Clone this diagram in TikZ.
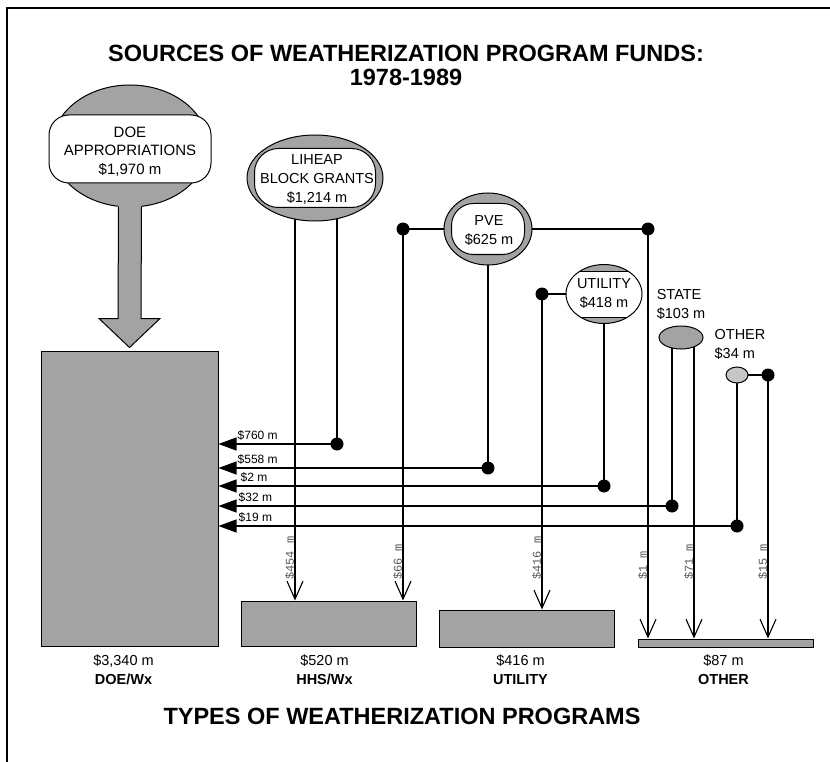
\documentclass[tikz,border=0pt]{standalone}
\usepackage{fontspec}
\setmainfont{Liberation Sans}
\setmonofont{Liberation Mono}
\usepackage{tikz}
\usetikzlibrary{shapes.geometric, arrows.meta, positioning, backgrounds}
\definecolor{fundgray}{gray}{0.64}
\tikzstyle{prog} = [rectangle, draw, fill=fundgray, line width=1pt, inner sep=0pt,
    minimum width=175pt]
\tikzstyle{source} = [ellipse, draw, fill=fundgray, line width=1pt, inner sep=0pt]
\tikzstyle{srctext} = [align=center, inner sep=0pt, font=\fontsize{14.5}{19}\selectfont]
\tikzstyle{plabel} = [align=center, inner sep=0pt, font=\fontsize{14.5}{19}\selectfont]
\tikzstyle{title} = [align=center, inner sep=0pt, font=\fontsize{23.5}{24}\selectfont\bfseries]
\tikzstyle{dot} = [circle, fill=black, inner sep=0pt, minimum size=13pt]
\tikzstyle{todoe} = [draw, line width=1.1pt, -{Triangle[length=18pt,width=13pt]}]
\tikzstyle{toprog} = [draw, line width=1.1pt, -{Straight Barb[length=18pt,width=16pt]}]
\tikzstyle{amount} = [anchor=south west, inner sep=0pt, font=\fontsize{12}{14}\selectfont]
\tikzstyle{vamount} = [anchor=south west, rotate=90, inner sep=0pt, text=black!65,
    font=\ttfamily\fontsize{12}{13}\selectfont]
\tikzset{inset/.style n args={3}{path picture={
    \draw[fill=white, line width=1pt, rounded corners=#3]
      ([xshift=-#1/2, yshift=#2/2]path picture bounding box.center) rectangle
      ([xshift=#1/2, yshift=-#2/2]path picture bounding box.center);}}}

\begin{document}
\begin{tikzpicture}[x=1pt, y=-1pt]
      \useasboundingbox (0,0) rectangle (830,762);
      \draw[line width=1.2pt] (830,8) -- (7,8) -- (7,762);
      % Titles
      \node[title] (top-title) at (406,65) {SOURCES OF WEATHERIZATION PROGRAM FUNDS:\\1978-1989};
      \node[title] (bottom-title) at (402,716) {TYPES OF WEATHERIZATION PROGRAMS};
      % Programs
      \node[prog, minimum width=177pt, minimum height=295pt] (doe) at (129.5,498.5) {};
      \node[prog, minimum height=45pt] (hhs) at (328.5,623.5) {};
      \node[prog, minimum height=37pt] (util) at (526.5,628.5) {};
      \node[prog, minimum height=8pt] (oth) at (725.5,643) {};
      \node[plabel, below=8pt of doe, xshift=-6pt] (doe-lab) {\$3,340 m\\\textbf{DOE/Wx}};
      \node[plabel, below=8pt of hhs, xshift=-4pt] (hhs-lab) {\$520 m\\\textbf{HHS/Wx}};
      \node[plabel, below=7pt of util, xshift=-6pt] (util-lab) {\$416 m\\\textbf{UTILITY}};
      \node[plabel, below=7pt of oth, xshift=-2pt] (oth-lab) {\$87 m\\\textbf{OTHER}};
      % Sources
      \node[source, minimum width=156pt, minimum height=122pt] (doe-src) at (130,146) {};
      \node[rectangle, draw, fill=white, line width=1pt, rounded corners=20pt,
        minimum width=162pt, minimum height=68pt] (doe-box) at (130,149) {};
      \node[srctext, font=\fontsize{15}{18.5}\selectfont] (doe-txt) at (130,151.5) {DOE\\APPROPRIATIONS\\\$1,970 m};
      \node[source, minimum width=136pt, minimum height=86pt, inset={121pt}{59pt}{24pt}] (lih) at (315,178) {};
      \node[srctext] (lih-txt) at (317,179.5) {LIHEAP\\BLOCK GRANTS\\\$1,214 m};
      \node[source, minimum width=88pt, minimum height=72pt, inset={73pt}{51pt}{22pt}] (pve) at (488,229) {};
      \node[srctext] (pve-txt) at (489,230.5) {PVE\\\$625 m};
      \node[source, minimum width=76pt, minimum height=59pt, inset={90pt}{46pt}{0pt}] (usrc) at (604,294) {};
      \node[srctext] (usrc-txt) at (604,294) {UTILITY\\\$418 m};
      \node[source, minimum width=44pt, minimum height=23pt] (state) at (681,337.5) {};
      \node[srctext, align=left, above=6pt of state] (state-txt) {STATE\\\$103 m};
      \node[source, fill=gray!45, minimum width=22pt, minimum height=16pt] (osrc) at (737,375) {};
      \node[srctext, align=left, above=7pt of osrc, xshift=3pt] (osrc-txt) {OTHER\\\$34 m};
      % Big arrow
      \fill[fundgray] ([xshift=-11.5pt,yshift=4pt]doe-src.south) -- ([xshift=-11.5pt,yshift=32pt]doe.north)
        -- ([xshift=-30.5pt,yshift=32pt]doe.north) -- ([yshift=3pt]doe.north)
        -- ([xshift=30.5pt,yshift=32pt]doe.north) -- ([xshift=11.5pt,yshift=32pt]doe.north)
        -- ([xshift=11.5pt,yshift=4pt]doe-src.south) -- cycle;
      \draw[line width=1pt] ([xshift=-11.5pt,yshift=0.5pt]doe-src.south) -- ([xshift=-11.5pt,yshift=32pt]doe.north)
        -- ([xshift=-30.5pt,yshift=32pt]doe.north) -- ([yshift=3pt]doe.north)
        -- ([xshift=30.5pt,yshift=32pt]doe.north) -- ([xshift=11.5pt,yshift=32pt]doe.north)
        -- ([xshift=11.5pt,yshift=0.5pt]doe-src.south);
      % Junctions
      \node[dot] (d760) at (337,444) {};
      \node[dot] (d558) at (488,468) {};
      \node[dot] (d2) at (604,486) {};
      \node[dot] (d32) at (672,506) {};
      \node[dot] (d19) at (737,526) {};
      \node[dot] (pve-l) at (403,229) {};
      \node[dot] (pve-r) at (648,229) {};
      \node[dot] (util-l) at (542,294) {};
      \node[dot] (oth-r) at (768,375) {};
      \coordinate (lih-l) at ([xshift=-20pt]lih.center);
      \coordinate (state-r) at ([xshift=13pt]state.center);
      \coordinate (vlab) at (0,578);
      % Draw edges
      \begin{scope}[on background layer]
        \path [toprog] (lih-l) -- (lih-l |- hhs.north);
        \path [todoe] (lih.center -| d760) -- (d760.center) -- (d760 -| doe.east);
        \path [todoe] (pve.center) -- (d558.center) -- (d558 -| doe.east);
        \path [toprog] (pve.center) -- (pve-l.center) -- (pve-l |- hhs.north);
        \path [toprog] (pve.center) -- (pve-r.center) -- (pve-r |- oth.north);
        \path [toprog] (usrc.center) -- (util-l.center) -- (util-l |- util.north);
        \path [todoe] (usrc.center) -- (d2.center) -- (d2 -| doe.east);
        \path [todoe] (state.center -| d32) -- (d32.center) -- (d32 -| doe.east);
        \path [toprog] (state-r) -- (state-r |- oth.north);
        \path [todoe] (osrc.center) -- (d19.center) -- (d19 -| doe.east);
        \path [toprog] (osrc.center) -- (oth-r.center) -- (oth-r |- oth.north);
      \end{scope}
      % Amounts
      \node[amount, xshift=19pt, yshift=3.5pt] (a760) at (d760 -| doe.east) {\$760 m};
      \node[amount, xshift=19pt, yshift=3.5pt] (a558) at (d558 -| doe.east) {\$558 m};
      \node[amount, xshift=22pt, yshift=3.5pt] (a2) at (d2 -| doe.east) {\$2 m};
      \node[amount, xshift=20pt, yshift=3.5pt] (a32) at (d32 -| doe.east) {\$32 m};
      \node[amount, xshift=20pt, yshift=3.5pt] (a19) at (d19 -| doe.east) {\$19 m};
      \node[vamount, xshift=-2pt] (a454) at (lih-l |- vlab) {\$454 m};
      \node[vamount, xshift=-2pt] (a66) at (pve-l |- vlab) {\$66 m};
      \node[vamount, xshift=-2pt] (a416) at (util-l |- vlab) {\$416 m};
      \node[vamount, xshift=-2pt] (a1) at (pve-r |- vlab) {\$1 m};
      \node[vamount, xshift=-2pt] (a71) at (state-r |- vlab) {\$71 m};
      \node[vamount, xshift=-2pt] (a15) at (oth-r |- vlab) {\$15 m};
\end{tikzpicture}
\end{document}
